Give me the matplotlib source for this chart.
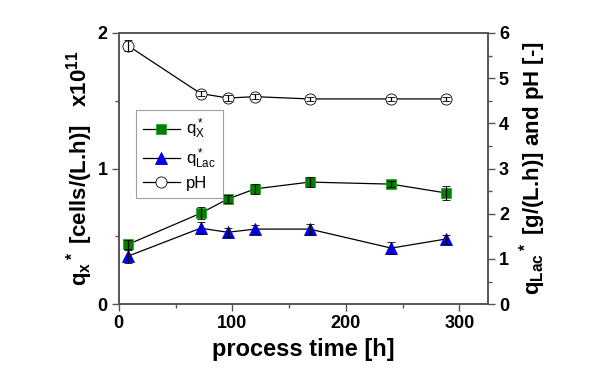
import matplotlib
matplotlib.use("Agg")
import matplotlib.pyplot as plt
from matplotlib.ticker import MultipleLocator

plt.rcParams["font.family"] = ["Liberation Sans", "DejaVu Sans"]
plt.rcParams["mathtext.default"] = "regular"

# process time [h]
time_h = [8, 72, 96, 120, 168, 240, 288]
# q*_X (left axis, x1e11 cells/(L.h))
q_x = [0.44, 0.67, 0.775, 0.85, 0.90, 0.885, 0.82]
q_x_err = [0.03, 0.045, 0.03, 0.035, 0.035, 0.02, 0.05]
# q*_Lac (right axis, g/(L.h))
q_lac = [1.06, 1.68, 1.59, 1.66, 1.66, 1.24, 1.44]
q_lac_err = [0.14, 0.13, 0.1, 0.1, 0.12, 0.13, 0.1]
# pH (right axis)
ph = [5.72, 4.66, 4.56, 4.59, 4.54, 4.54, 4.54]
ph_err = [0.12, 0.06, 0.06, 0.06, 0.05, 0.05, 0.05]

fig = plt.figure(figsize=(6, 3.7), dpi=100)
ax = fig.add_axes([0.198, 0.178, 0.615, 0.733])
ax2 = ax.twinx()

ekw = dict(ecolor="black", elinewidth=0.9, capsize=3, capthick=0.9)
h1 = ax.errorbar(time_h, q_x, yerr=q_x_err, color="black", lw=0.9,
                 marker="s", ms=7, mfc="#008000", mec="#2ca02c", mew=0.6,
                 label=r"q$^*_X$", **ekw)
h2 = ax2.errorbar(time_h, q_lac, yerr=q_lac_err, color="black", lw=0.9,
                  marker="^", ms=9, mfc="#0000ff", mec="#0000cc", mew=0.6,
                  label=r"q$^*_{Lac}$", **ekw)
h3 = ax2.errorbar(time_h, ph, yerr=ph_err, color="black", lw=0.9,
                  marker="o", ms=8, mfc="white", mec="black", mew=0.6,
                  label="pH", **ekw)
for h in (h1, h2, h3):
    for art in h[1] + h[2]:
        art.set_zorder(5)

ax.set_xlim(0, 325)
ax.set_ylim(0, 2)
ax2.set_ylim(0, 6)
ax.xaxis.set_major_locator(MultipleLocator(100))
ax.xaxis.set_minor_locator(MultipleLocator(50))
ax.yaxis.set_major_locator(MultipleLocator(1))
ax.yaxis.set_minor_locator(MultipleLocator(0.5))
ax2.yaxis.set_major_locator(MultipleLocator(1))
ax2.yaxis.set_minor_locator(MultipleLocator(0.5))

for a in (ax, ax2):
    for s in a.spines.values():
        s.set_color("#555555")
        s.set_linewidth(1.2)
    a.tick_params(which="major", length=5, width=1, color="#555555",
                  labelsize=13, pad=3)
    a.tick_params(which="minor", length=3, width=1, color="#555555")
    for lbl in a.get_xticklabels() + a.get_yticklabels():
        lbl.set_fontweight("bold")

ax.set_xlabel("process time [h]", fontsize=17, fontweight="bold", labelpad=4)
ax.set_ylabel(r"q$_x$$^*$ [cells/(L.h)]   x10$^{11}$", fontsize=16,
              fontweight="bold", labelpad=2)
ax2.set_ylabel(r"q$_{Lac}$$^*$ [g/(L.h)] and pH [-]", fontsize=16,
               fontweight="bold", rotation=90, labelpad=6)

# plain line+marker handles for the legend (no error bars)
leg = ax.legend(handles=[h1[0], h2[0], h3[0]],
                labels=[r"q$^*_X$", r"q$^*_{Lac}$", "pH"],
                loc="upper left", bbox_to_anchor=(0.025, 0.745),
                fontsize=12, frameon=True, fancybox=False,
                edgecolor="#888888", handlelength=2.2, borderpad=0.4,
                labelspacing=0.3, handletextpad=0.4)
leg.get_frame().set_linewidth(0.8)
ax.set_zorder(ax2.get_zorder() + 1)
ax.patch.set_visible(False)

fig.savefig("out.png", dpi=100)
